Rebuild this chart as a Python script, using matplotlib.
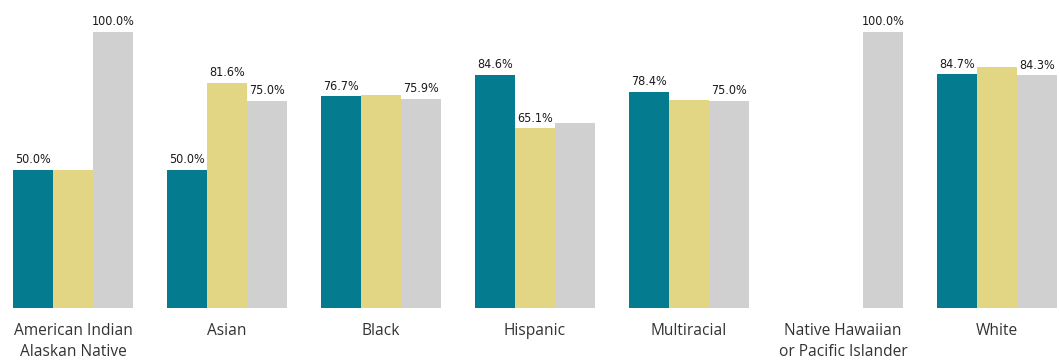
import numpy as np
import matplotlib
matplotlib.use("Agg")
from matplotlib import pyplot as plt

categories = ["American Indian\nAlaskan Native", "Asian", "Black", "Hispanic",
              "Multiracial", "Native Hawaiian\nor Pacific Islander", "White"]
series1 = [50.0, 50.0, 76.7, 84.6, 78.4, np.nan, 84.7]
series2 = [50.0, 81.6, 77.2, 65.1, 75.5, np.nan, 87.2]
series3 = [100.0, 75.0, 75.9, 67.0, 75.0, 100.0, 84.3]
# which data labels are visible (the rest are hidden by overlap in the original)
show1 = [True, True, True, True, True, False, True]
show2 = [False, True, False, True, False, False, False]
show3 = [True, True, True, False, True, True, True]

colors = ["#047B8F", "#E2D685", "#D0D0D0"]

fig = plt.figure(figsize=(10.59, 3.62), dpi=100)
ax = fig.add_axes([0, 54/362, 1, 308/362])

x = np.arange(len(categories))
w = 40/154
for k, (vals, show) in enumerate([(series1, show1), (series2, show2), (series3, show3)]):
    xs = x + (k - 1) * w
    ax.bar(xs, vals, width=w, color=colors[k], linewidth=0)
    for xi, v, s in zip(xs, vals, show):
        if s and not np.isnan(v):
            ax.text(xi, v + 1.3, f"{v:.1f}%", ha="center", va="bottom",
                    fontsize=9, color="#1a1a1a", fontstretch="condensed",
                    family="DejaVu Sans")

ax.set_xlim(-73/154, 6 + 62/154)
ax.set_ylim(0, 308/276*100)
ax.set_xticks(x)
ax.set_xticklabels(categories, fontsize=11.2, color="#333333", family="Open Sans",
                   linespacing=1.4, va="top")
ax.tick_params(axis="x", length=0, pad=11)
ax.set_yticks([])
for s in ax.spines.values():
    s.set_visible(False)

fig.savefig("out.png", dpi=100)
